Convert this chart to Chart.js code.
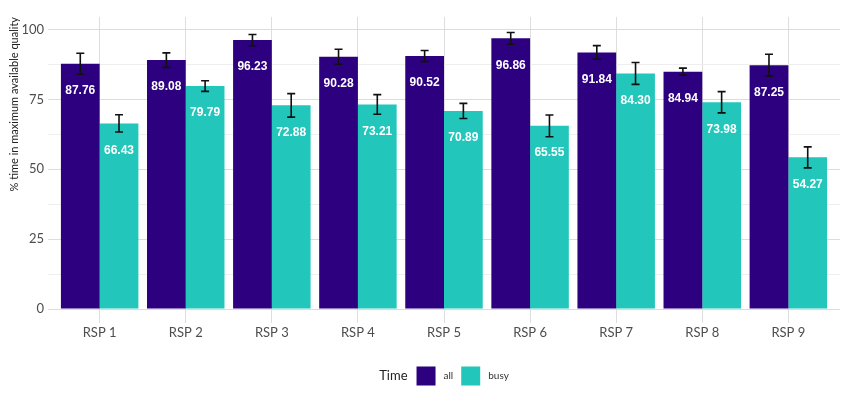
<!DOCTYPE html>
<html>
<head>
<meta charset="utf-8">
<script src="https://cdn.jsdelivr.net/npm/chart.js@4/dist/chart.umd.min.js"></script>
<style>
  html, body { margin: 0; padding: 0; background: #fff; }
  #wrap { width: 850px; height: 397px; }
</style>
</head>
<body>
<div id="wrap"><canvas id="chart" width="850" height="397"></canvas></div>
<script>
// categories and series
const categories = ['RSP 1', 'RSP 2', 'RSP 3', 'RSP 4', 'RSP 5', 'RSP 6', 'RSP 7', 'RSP 8', 'RSP 9'];
const series_names = ['all', 'busy'];
const all_values = [87.76, 89.08, 96.23, 90.28, 90.52, 96.86, 91.84, 84.94, 87.25];
const busy_values = [66.43, 79.79, 72.88, 73.21, 70.89, 65.55, 84.30, 73.98, 54.27];
// error bar half-widths
const all_errors = [3.75, 2.6, 2.0, 2.7, 2.0, 2.1, 2.4, 1.25, 3.9];
const busy_errors = [3.1, 1.9, 4.2, 3.5, 2.7, 3.9, 3.9, 3.8, 3.75];
const y_ticks = [0, 12.5, 25, 37.5, 50, 62.5, 75, 87.5, 100];

const colors = ['#2d0080', '#22c6bb'];
const font_family = "Lato, 'Open Sans', sans-serif";

const to_points = values => values.map((v, i) => ({ x: i + 1, y: v }));

// error bars + value labels, drawn on top of the bars
const bar_extras = {
  id: 'bar_extras',
  afterDatasetsDraw(chart) {
    const ctx = chart.ctx;
    const y_scale = chart.scales.y;
    const errors = [all_errors, busy_errors];
    chart.data.datasets.forEach((ds, di) => {
      const meta = chart.getDatasetMeta(di);
      meta.data.forEach((bar, i) => {
        const v = ds.data[i].y;
        // label inside bar
        ctx.save();
        ctx.fillStyle = '#ffffff';
        ctx.font = "bold 12px 'Liberation Sans', Arial, sans-serif";
        ctx.textAlign = 'center';
        ctx.textBaseline = 'middle';
        ctx.fillText(v.toFixed(2), bar.x, bar.y + 27);
        ctx.restore();
        // error bar
        const e = errors[di][i];
        const top = y_scale.getPixelForValue(v + e);
        const bottom = y_scale.getPixelForValue(v - e);
        ctx.save();
        ctx.strokeStyle = '#111111';
        ctx.lineWidth = 1.6;
        ctx.beginPath();
        ctx.moveTo(bar.x, top);
        ctx.lineTo(bar.x, bottom);
        ctx.moveTo(bar.x - 4, top);
        ctx.lineTo(bar.x + 4, top);
        ctx.moveTo(bar.x - 4, bottom);
        ctx.lineTo(bar.x + 4, bottom);
        ctx.stroke();
        ctx.restore();
      });
    });
  }
};

// legend below the plot: "Time" then the two keys in a row
const bottom_legend = {
  id: 'bottom_legend',
  afterDraw(chart) {
    const ctx = chart.ctx;
    const area = chart.chartArea;
    const box = 19;
    const y_mid = 376;
    ctx.save();
    ctx.textBaseline = 'middle';
    ctx.font = '13px ' + font_family;
    const title_w = ctx.measureText('Time').width;
    ctx.font = '10px ' + font_family;
    const label_w = chart.data.datasets.map(ds => ctx.measureText(ds.label).width);
    const total = title_w + 9 + (box + 8) * 2 + label_w[0] + 8 + label_w[1];
    let x = (area.left + area.right) / 2 - total / 2;
    ctx.fillStyle = '#222222';
    ctx.font = '13px ' + font_family;
    ctx.fillText('Time', x, y_mid);
    x += title_w + 9;
    chart.data.datasets.forEach((ds, di) => {
      ctx.fillStyle = ds.backgroundColor;
      ctx.fillRect(x, y_mid - box / 2, box, box);
      x += box + 8;
      ctx.fillStyle = '#333333';
      ctx.font = '10px ' + font_family;
      ctx.fillText(ds.label, x, y_mid);
      x += label_w[di] + 8;
    });
    ctx.restore();
  }
};

new Chart(document.getElementById('chart'), {
  type: 'bar',
  data: {
    datasets: [
      { label: series_names[0], data: to_points(all_values), backgroundColor: colors[0] },
      { label: series_names[1], data: to_points(busy_values), backgroundColor: colors[1] },
    ]
  },
  options: {
    responsive: false,
    animation: false,
    layout: { padding: { top: 17, right: 10, bottom: 44, left: 0 } },
    categoryPercentage: 0.9,
    barPercentage: 1.0,
    plugins: {
      legend: { display: false },
      tooltip: { enabled: false },
    },
    scales: {
      x: {
        type: 'linear',
        offset: false,
        min: 0.4,
        max: 9.6,
        afterBuildTicks: scale => {
          scale.ticks = categories.map((_, i) => ({ value: i + 1 }));
        },
        afterFit: scale => { scale.height = 30; },
        ticks: {
          callback: value => categories[value - 1],
          color: '#4d4d4d',
          font: { family: font_family, size: 13 },
          padding: 2,
          maxRotation: 0,
          autoSkip: false,
        },
        grid: { offset: false, color: '#dedede', drawTicks: false, lineWidth: 1 },
        border: { display: false },
      },
      y: {
        min: -5,
        max: 104.5,
        afterBuildTicks: scale => {
          scale.ticks = y_ticks.map(v => ({ value: v }));
        },
        afterFit: scale => { scale.width = 48; },
        ticks: {
          callback: value => (value % 25 === 0 ? value : ''),
          color: '#4d4d4d',
          font: { family: font_family, size: 13 },
          padding: 4,
        },
        grid: {
          drawTicks: false,
          color: c => (c.tick && c.tick.value % 25 === 0 ? '#dcdcdc' : '#eeeeee'),
        },
        border: { display: false },
        title: {
          display: true,
          align: 'end',
          text: '% time in maximum available quality',
          color: '#222222',
          font: { family: font_family, size: 11 },
          padding: { top: 8, bottom: 0 },
        },
      }
    }
  },
  plugins: [bar_extras, bottom_legend],
});
</script>
</body>
</html>
